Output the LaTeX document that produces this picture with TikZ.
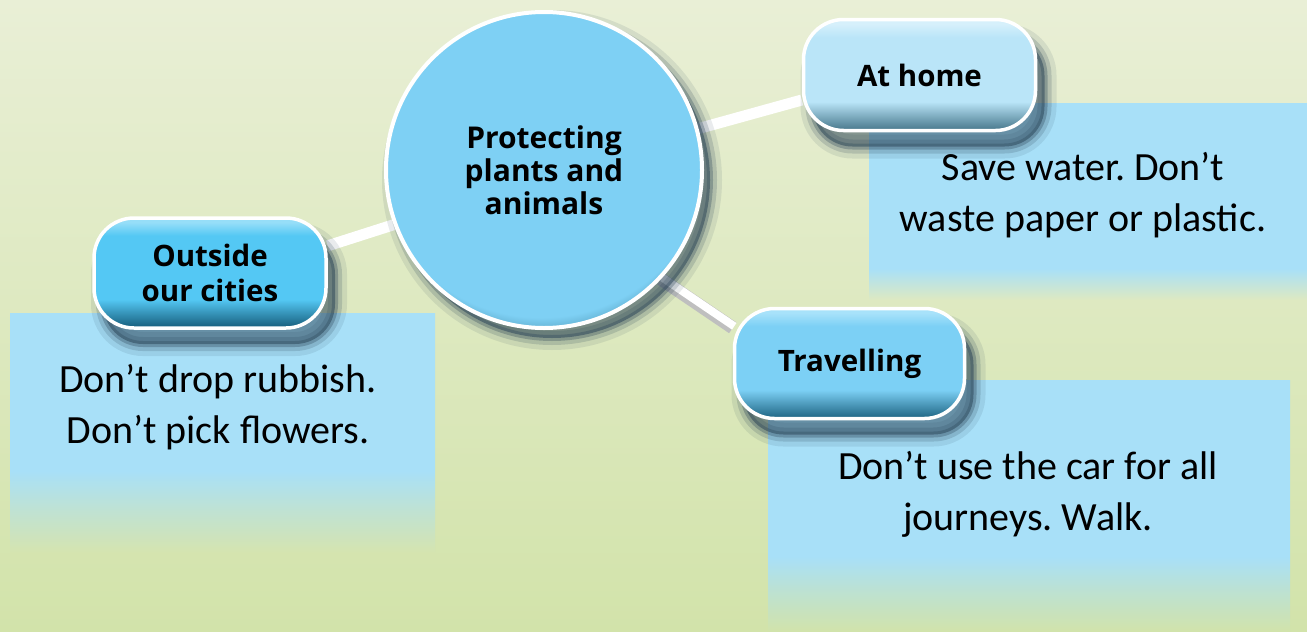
\documentclass[tikz,border=0pt]{standalone}
\usepackage{fontspec}
\setmainfont{Carlito}
\newfontfamily\lab{Open Sans}
\usetikzlibrary{calc}
\definecolor{bgT}{RGB}{233,239,214}
\definecolor{bgB}{RGB}{210,227,170}
\definecolor{bgA}{RGB}{213,228,176}
\definecolor{bgC}{RGB}{222,233,193}
\definecolor{tbox}{RGB}{168,224,248}
\definecolor{oM}{RGB}{84,200,244}
\definecolor{oL}{RGB}{150,222,248}
\definecolor{oD}{RGB}{22,92,122}
\definecolor{hM}{RGB}{186,229,248}
\definecolor{hL}{RGB}{214,240,251}
\definecolor{hD}{RGB}{70,118,138}
\definecolor{tM}{RGB}{124,208,245}
\definecolor{tL}{RGB}{168,226,250}
\definecolor{tD}{RGB}{30,100,130}
\definecolor{cM}{RGB}{126,208,244}
\definecolor{cD}{RGB}{35,100,125}
\definecolor{shad}{RGB}{40,65,85}
\pgfdeclareverticalshading{shO}{100bp}{color(0bp)=(oD); color(25bp)=(oD); color(31bp)=(oD!55!oM); color(38bp)=(oM); color(67bp)=(oM); color(73bp)=(oL); color(100bp)=(oL)}
\pgfdeclareverticalshading{shH}{100bp}{color(0bp)=(hD); color(25bp)=(hD); color(31bp)=(hD!55!hM); color(38bp)=(hM); color(67bp)=(hM); color(73bp)=(hL); color(100bp)=(hL)}
\pgfdeclareverticalshading{shT}{100bp}{color(0bp)=(tD); color(25bp)=(tD); color(31bp)=(tD!55!tM); color(38bp)=(tM); color(67bp)=(tM); color(73bp)=(tL); color(100bp)=(tL)}
\pgfdeclareverticalshading{shB1}{100bp}{color(0bp)=(bgA); color(25bp)=(bgA); color(34bp)=(tbox!50!bgA); color(42bp)=(tbox); color(100bp)=(tbox)}
\pgfdeclareverticalshading{shB2}{100bp}{color(0bp)=(bgC); color(25bp)=(bgC); color(29bp)=(tbox!50!bgC); color(33bp)=(tbox); color(100bp)=(tbox)}
\pgfdeclareverticalshading{shB3}{100bp}{color(0bp)=(bgB); color(25bp)=(bgB); color(33bp)=(tbox!50!bgB); color(40bp)=(tbox); color(100bp)=(tbox)}
\pgfdeclareradialshading{shC}{\pgfpoint{-1bp}{8bp}}{color(0bp)=(cM); color(27bp)=(cM); color(33bp)=(cD); color(50bp)=(cD)}
\pgfdeclarelayer{back}
\pgfdeclarelayer{mid}
\pgfsetlayers{back,mid,main}
\begin{document}
\frenchspacing
\begin{tikzpicture}[x=1pt,y=-1pt,
  softshadow/.style={
    preaction={fill=shad, opacity=.5, transform canvas={shift={(#1)}}},
    preaction={draw=shad, line width=6pt, opacity=.3, transform canvas={shift={(#1)}}},
    preaction={draw=shad, line width=14pt, opacity=.18, transform canvas={shift={(#1)}}},
    preaction={draw=shad, line width=24pt, opacity=.1, transform canvas={shift={(#1)}}}},
  lbl/.style={font=\lab\bfseries\fontsize{29.5}{35}\selectfont, align=center},
  hand/.style={font=\fontsize{40}{51}\selectfont, align=center},
  btn/.style={rectangle, rounded corners=40pt, draw=white, line width=3.5pt, inner sep=0pt, shade,
    softshadow={9pt,-16pt}},
  conn/.style={white, line width=11pt},
  tb/.style={rectangle, inner sep=0pt, shade}
]
\begin{pgfonlayer}{back}
\shade[top color=bgT, bottom color=bgB] (0,0) rectangle (1307,632);
\node[tb, shading=shB1, minimum width=425pt, minimum height=239pt] (b1) at (222.5,432.5) {};
\node[tb, shading=shB2, minimum width=438pt, minimum height=197pt] (b2) at (1088,201.5) {};
\node[tb, shading=shB3, minimum width=522pt, minimum height=252pt] (b3) at (1029,506) {};
\end{pgfonlayer}
\useasboundingbox (0,0) rectangle (1307,632);

\node[circle, minimum size=316pt, inner sep=0pt, shade, shading=shC, draw=white, line width=4pt,
  softshadow={8pt,-10pt},
  font=\lab\bfseries\fontsize{30}{33}\selectfont, align=center] (c) at (544,170) {Protecting\\plants and\\animals};

\node[btn, shading=shO, minimum width=232pt, minimum height=110pt, lbl] (o) at (210,273) {Outside\\our cities};
\node[btn, shading=shH, minimum width=232pt, minimum height=111pt, lbl] (h) at (919.5,75) {At home};
\node[btn, shading=shT, minimum width=230pt, minimum height=110pt, lbl] (t) at (849.5,363.5) {Travelling};

\begin{pgfonlayer}{mid}
\draw[conn] (c.200) -- (o.13);
\draw[conn] (c.15) -- (h.192);
\draw[line width=13pt, black!25] (c.-43) -- (t.163);
\draw[white, line width=8pt, transform canvas={shift={(1.5pt,1.5pt)}}] (c.-43) -- (t.163);
\end{pgfonlayer}

\node[hand] (x1) at (218,407) {Don’t drop rubbish.\\Don’t pick flowers.};
\node[hand] (x2) at (1083,195) {Save water. Don’t\\waste paper or plastic.};
\node[hand] (x3) at (1028,494) {Don’t use the car for all\\journeys. Walk.};
\end{tikzpicture}
\end{document}
